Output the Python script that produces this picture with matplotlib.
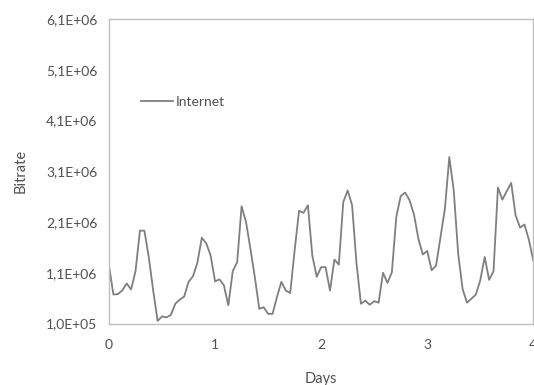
import matplotlib
matplotlib.use("Agg")
import matplotlib.pyplot as plt
import numpy as np

# Hourly bitrate samples over 4 days (values in millions)
hours = list(range(97))
bitrate_m = [
    1.24, 0.67, 0.68, 0.75, 0.89, 0.77, 1.13, 1.93, 1.93, 1.41, 0.75, 0.15,
    0.24, 0.22, 0.27, 0.49, 0.57, 0.63, 0.92, 1.03, 1.30, 1.79, 1.68, 1.44,
    0.93, 0.97, 0.85, 0.46, 1.13, 1.31, 2.41, 2.10, 1.57, 1.01, 0.39, 0.42,
    0.29, 0.29, 0.62, 0.92, 0.75, 0.70, 1.54, 2.32, 2.28, 2.43, 1.44, 1.02,
    1.21, 1.21, 0.75, 1.36, 1.26, 2.49, 2.72, 2.43, 1.28, 0.49, 0.55, 0.47,
    0.54, 0.51, 1.10, 0.90, 1.11, 2.20, 2.61, 2.68, 2.53, 2.25, 1.77, 1.46,
    1.53, 1.15, 1.24, 1.80, 2.36, 3.38, 2.72, 1.48, 0.78, 0.51, 0.59, 0.67,
    0.95, 1.41, 0.96, 1.13, 2.78, 2.54, 2.71, 2.87, 2.23, 1.99, 2.05, 1.75,
    1.34,
]
x_ticks = [0, 1, 2, 3, 4]
y_ticks = [1.0e5, 1.1e6, 2.1e6, 3.1e6, 4.1e6, 5.1e6, 6.1e6]
y_tick_labels = ["1,0E+05", "1,1E+06", "2,1E+06", "3,1E+06", "4,1E+06", "5,1E+06", "6,1E+06"]
series_name = "Internet"
x_label = "Days"
y_label = "Bitrate"

plt.rcParams['font.family'] = ['Lato', 'DejaVu Sans']

days = np.array(hours) / 24.0
values = np.array(bitrate_m) * 1e6

fig = plt.figure(figsize=(5.34, 3.85), dpi=100)
ax = fig.add_axes([109 / 534, 1 - 323.5 / 385, (533.3 - 109) / 534, (323.5 - 19) / 385])

text_color = "#505050"
frame_color = "#bfbfbf"

ax.plot(days, values, color="#7f7f7f", lw=1.3, label=series_name)
ax.set_xlim(0, 4)
ax.set_ylim(1.0e5, 6.1e6)
ax.set_xticks(x_ticks)
ax.set_xticklabels([str(t) for t in x_ticks])
ax.set_yticks(y_ticks)
ax.set_yticklabels(y_tick_labels)

for sp in ax.spines.values():
    sp.set_color(frame_color)
    sp.set_linewidth(1.0)

ax.tick_params(axis='both', length=0, colors=text_color, labelsize=10)
ax.tick_params(axis='y', pad=8.5)
ax.tick_params(axis='x', pad=11)

ax.set_xlabel(x_label, color=text_color, fontsize=10.5, labelpad=15)
ax.set_ylabel(y_label, color=text_color, fontsize=10.5, labelpad=13)

leg = ax.legend(loc='center left', bbox_to_anchor=(0.062, 0.727), frameon=False,
                handlelength=2.3, handletextpad=0.2, fontsize=10, borderaxespad=0)
for t in leg.get_texts():
    t.set_color(text_color)

fig.savefig("out.png", dpi=100)
